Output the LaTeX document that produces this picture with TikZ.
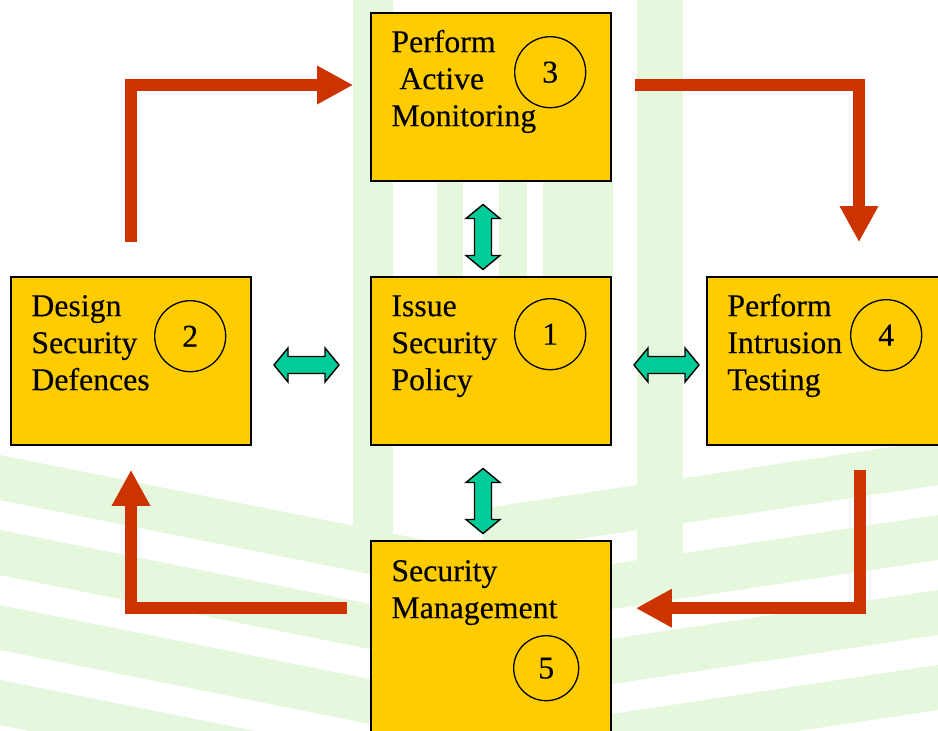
\documentclass[tikz,border=0pt]{standalone}
\usepackage{fontspec}
\setmainfont{Liberation Serif}[FakeBold=0.25]
\usetikzlibrary{calc,arrows.meta}

\definecolor{boxfill}{RGB}{255,204,0}
\definecolor{flowred}{RGB}{204,51,0}
\definecolor{linkgreen}{RGB}{0,204,153}
\definecolor{emblem}{RGB}{229,247,220}

\tikzset{
  stepbox/.style={draw=black, line width=1.6pt, fill=boxfill,
    minimum width=240pt, minimum height=168pt, inner sep=0pt},
  tallbox/.style={stepbox, minimum height=220pt},
  numring/.style={circle, draw=black, line width=1.3pt, minimum size=71pt,
    inner sep=0pt, font=\fontsize{31.8}{37}\selectfont},
  boxtext/.style={anchor=base west, inner sep=0pt,
    font=\fontsize{31.8}{37}\selectfont},
  flow/.style={draw=flowred, line width=12pt,
    -{Triangle[length=36pt,width=36pt]}},
  link/.style={draw=black, fill=linkgreen, line width=1.4pt, line join=miter},
  dblarrow/.pic={
    \path[link] (-32.5,0) -- (-18.5,-17) -- (-18.5,-8.5) -- (18.5,-8.5)
      -- (18.5,-17) -- (32.5,0) -- (18.5,17) -- (18.5,8.5) -- (-18.5,8.5)
      -- (-18.5,17) -- cycle;
  }
}

\newcommand{\lines}[1]{\begin{tabular}[t]{@{}l@{}}#1\end{tabular}}

\begin{document}
\begin{tikzpicture}[x=1pt,y=-1pt]
  \useasboundingbox (0,0) rectangle (938,731);
  \clip (0,0) rectangle (938,731);
  \fill[white] (0,0) rectangle (938,731);

  % faint background emblem: upright stems
  \fill[emblem] (353,0) rectangle (393,560);
  \fill[emblem] (637,0) rectangle (683,560);
  \fill[emblem] (437,181) rectangle (463,277);
  \fill[emblem] (499,181) rectangle (527,277);
  \fill[emblem] (543,181) rectangle (613,277);
  % faint background emblem: leaves spreading from the foot
  \foreach \c in {455,530,605,680}{
    \fill[emblem] (0,\c) -- (483,{\c+96.6}) -- (483,{\c+141.6}) -- (0,{\c+45}) -- cycle;
  }
  \foreach \c in {440,515,590,665}{
    \fill[emblem] (938,\c) -- (483,{\c+68.3}) -- (483,{\c+113.3}) -- (938,{\c+45}) -- cycle;
  }

  % process boxes
  \node[stepbox] (b3) at (491,97) {};
  \node[stepbox] (b1) at (491,361) {};
  \node[stepbox] (b2) at (131,361) {};
  \node[stepbox] (b4) at (827,361) {};
  \node[tallbox] (b5) at (491,651) {};

  % box captions
  \node[boxtext] (t3) at ($(b3.north west)+(21,40)$) {\lines{Perform\\\ Active\\Monitoring}};
  \node[boxtext] (t1) at ($(b1.north west)+(21,40)$) {\lines{Issue\\Security\\Policy}};
  \node[boxtext] (t2) at ($(b2.north west)+(21,40)$) {\lines{Design\\Security\\Defences}};
  \node[boxtext] (t4) at ($(b4.north west)+(21,40)$) {\lines{Perform\\Intrusion\\Testing}};
  \node[boxtext] (t5) at ($(b5.north west)+(21,41)$) {\lines{Security\\Management}};

  % step numbers
  \node[numring] (n3) at ($(b3.north west)+(180,60)$) {3};
  \node[numring] (n1) at ($(b1.north west)+(180,58)$) {1};
  \node[numring] (n2) at ($(b2.north west)+(180,60)$) {2};
  \node[numring] (n4) at ($(b4.north west)+(180,59)$) {4};
  \node[numring, minimum size=65pt] (n5) at ($(b5.north west)+(176,128)$) {5};

  % cycle of steps
  \draw[flow] ($(b2.north)+(0,-34)$) |- ($(b3.west)+(-17,-12)$);
  \draw[flow] ($(b3.east)+(23,-12)$) -| ($(b4.north)+(32,-34)$);
  \draw[flow] ($(b4.south)+(33,24)$) |- ($(b5.north east)+(24,68)$);
  \draw[flow] ($(b5.north west)+(-23,68)$) -| ($(b2.south)+(0,24)$);

  % links with the policy
  \pic[rotate=90] at ($(b3.south)!0.5!(b1.north)+(-8,8)$) {dblarrow};
  \pic[rotate=90] at ($(b1.south)!0.5!(b5.north)+(-8,8)$) {dblarrow};
  \pic at ($(b2.east)!0.5!(b1.west)+(-4.5,4)$) {dblarrow};
  \pic at ($(b1.east)!0.5!(b4.west)+(7.5,4)$) {dblarrow};
\end{tikzpicture}
\end{document}
